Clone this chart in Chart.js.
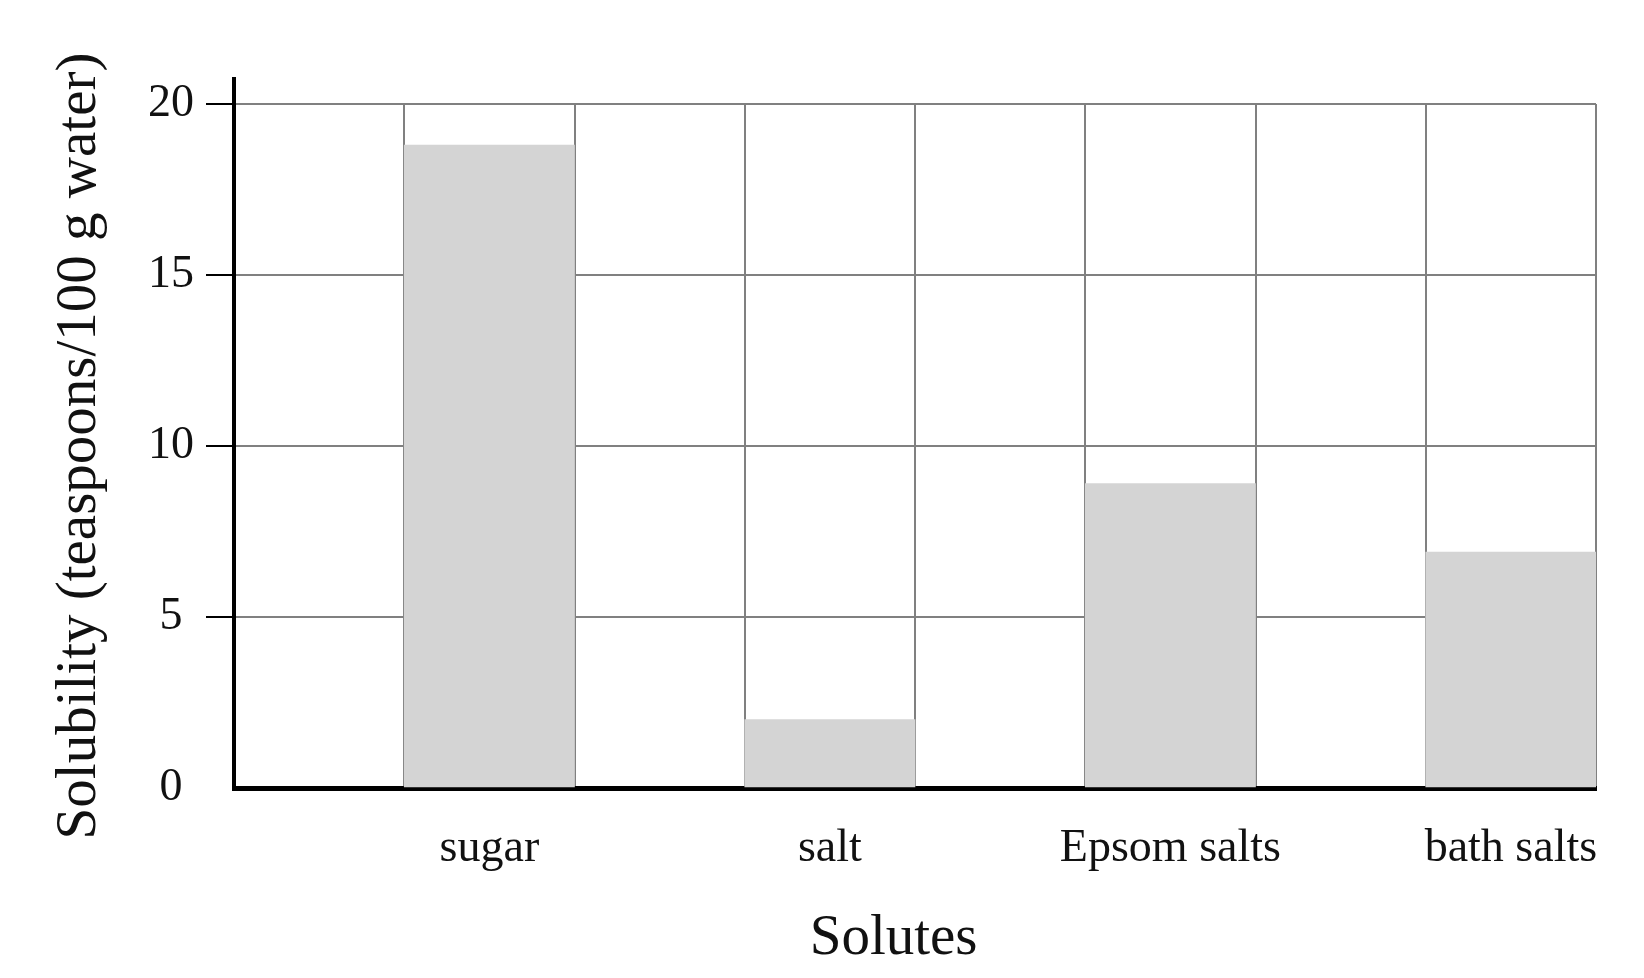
<!DOCTYPE html>
<html>
<head>
<meta charset="utf-8">
<script src="https://cdn.jsdelivr.net/npm/chart.js@4.4.1/dist/chart.umd.min.js"></script>
<style>
  html, body { margin: 0; padding: 0; background: #fff; }
  #wrap { width: 1644px; height: 978px; }
</style>
</head>
<body>
<div id="wrap"><canvas id="chart" width="1644" height="978"></canvas></div>
<script>
// every other slot is an empty spacer column, as in the original figure
const solutes = ['', 'sugar', '', 'salt', '', 'Epsom salts', '', 'bath salts'];
const solubility = [null, 18.8, null, 2.0, null, 8.9, null, 6.9];
const yTicks = [0, 5, 10, 15, 20];

const FONT = "'Liberation Serif', 'DejaVu Serif', serif";
const GRID = '#808080';
const BAR = '#d4d4d4';

// the y axis line sticks out a little above the top grid line
const axisStub = {
  id: 'axisStub',
  afterDraw(chart) {
    const { ctx, chartArea } = chart;
    ctx.save();
    ctx.strokeStyle = '#000';
    ctx.lineWidth = 4;
    ctx.beginPath();
    ctx.moveTo(chartArea.left, chartArea.top + 1);
    ctx.lineTo(chartArea.left, chartArea.top - 27);
    ctx.stroke();
    ctx.restore();
  }
};

function noPad(scale) {
  scale.paddingTop = 0;
  scale.paddingBottom = 0;
  scale.paddingLeft = 0;
  scale.paddingRight = 0;
}

new Chart(document.getElementById('chart'), {
  type: 'bar',
  data: {
    labels: solutes,
    datasets: [{
      data: solubility,
      backgroundColor: BAR,
      borderWidth: 0,
      barPercentage: 1,
      categoryPercentage: 1,
    }],
  },
  options: {
    responsive: false,
    animation: false,
    devicePixelRatio: 1,
    layout: { padding: { top: 104, right: 48, bottom: 0, left: 0 } },
    plugins: { legend: { display: false }, tooltip: { enabled: false } },
    scales: {
      x: {
        z: 1,
        offset: true,
        grid: {
          offset: true,
          color: c => c.index === 0 ? 'rgba(0,0,0,0)' : GRID,
          lineWidth: 2,
          drawTicks: false,
        },
        border: { display: true, color: '#000', width: 5 },
        ticks: {
          color: '#111',
          padding: 33,
          maxRotation: 0,
          autoSkip: false,
          font: { family: FONT, size: 46 },
        },
        title: {
          display: true,
          // trailing spaces nudge the centred title left, like the original
          text: 'Solutes   ',
          color: '#111',
          font: { family: FONT, size: 57 },
          padding: { top: 0, bottom: 5 },
        },
        afterFit(scale) { scale.height = 190; noPad(scale); },
      },
      y: {
        min: 0,
        max: 20,
        afterBuildTicks(scale) { scale.ticks = yTicks.map(v => ({ value: v })); },
        grid: {
          color: GRID,
          lineWidth: 2,
          tickLength: 28,
          tickWidth: 2,
          tickColor: c => (c.tick && c.tick.value === 0) ? 'rgba(0,0,0,0)' : '#000',
        },
        border: { display: true, color: '#000', width: 4 },
        ticks: {
          color: '#111',
          padding: 12,
          crossAlign: 'center',
          font: { family: FONT, size: 46 },
        },
        title: {
          display: true,
          text: 'Solubility (teaspoons/100 g water)',
          color: '#111',
          font: { family: FONT, size: 57 },
          padding: { top: 46, bottom: 0 },
        },
        afterFit(scale) { scale.width = 234; noPad(scale); },
      },
    },
  },
  plugins: [axisStub],
});
</script>
</body>
</html>
